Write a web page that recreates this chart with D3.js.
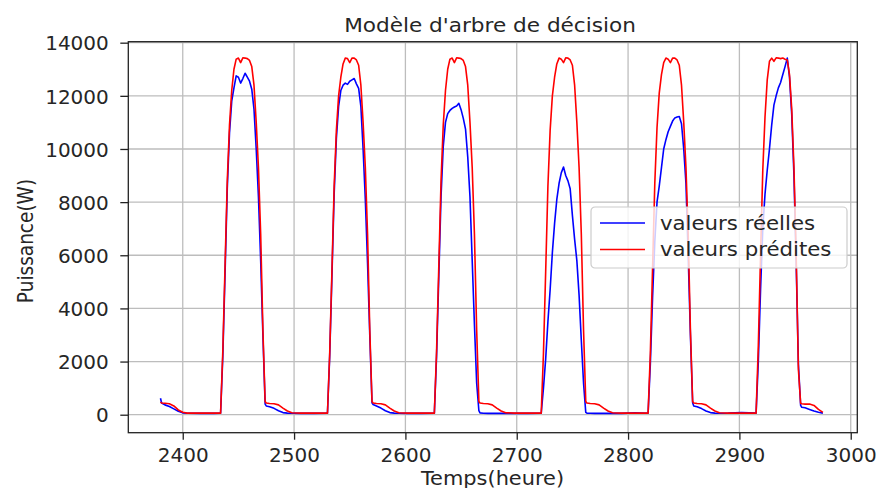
<!DOCTYPE html>
<html>
<head>
    <meta charset="utf-8">
    <title>Modèle d'arbre de décision</title>
    <style>
        body { margin: 0; background: #fff; }
        text { font-family: "DejaVu Sans", sans-serif; fill: #262626; }
    </style>
</head>
<body>
    <script src="https://cdnjs.cloudflare.com/ajax/libs/d3/7.9.0/d3.min.js"></script>
    <script>
        // temps (heure), shared by both series
        const heures = [
            2380, 2381, 2384, 2388, 2392, 2396, 2400, 2404, 2416, 2428,
            2434, 2436, 2438, 2440, 2442, 2444, 2446, 2448, 2450, 2452, 2454, 2456, 2458, 2460, 2462, 2464, 2466, 2468, 2470, 2472, 2474, 2475, 2478, 2482, 2486, 2490, 2494, 2498, 2506, 2518,
            2530, 2532, 2534, 2536, 2538, 2540, 2542, 2544, 2546, 2548, 2550, 2552, 2554, 2556, 2558, 2560, 2562, 2564, 2566, 2568, 2570, 2571, 2574, 2578, 2582, 2586, 2590, 2594, 2602, 2614,
            2626, 2628, 2630, 2632, 2634, 2636, 2638, 2640, 2642, 2644, 2646, 2648, 2650, 2652, 2654, 2656, 2658, 2660, 2662, 2664, 2666, 2667, 2670, 2674, 2678, 2682, 2686, 2690, 2698, 2710,
            2722, 2724, 2726, 2728, 2730, 2732, 2734, 2736, 2738, 2740, 2742, 2744, 2746, 2748, 2750, 2752, 2754, 2756, 2758, 2760, 2762, 2763, 2766, 2770, 2774, 2778, 2782, 2786, 2794, 2806,
            2818, 2820, 2822, 2824, 2826, 2828, 2830, 2832, 2834, 2836, 2838, 2840, 2842, 2844, 2846, 2848, 2850, 2852, 2854, 2856, 2858, 2859, 2862, 2866, 2870, 2874, 2878, 2882, 2890, 2902,
            2915, 2917, 2919, 2921, 2923, 2925, 2927, 2929, 2931, 2933, 2935, 2937, 2939, 2941, 2943, 2945, 2947, 2949, 2951, 2953, 2955, 2956, 2959, 2963, 2967, 2971, 2975
        ];

        const valeursReelles = [
            620, 440, 370, 310, 220, 130, 70, 55, 50, 50,
            55, 2200, 5300, 8500, 10600, 11800, 12300, 12750, 12700, 12480, 12650, 12850, 12700, 12550, 12250, 11500, 10000, 8200, 5800, 3000, 400, 330, 300, 240, 150, 80, 60, 55, 50, 50,
            55, 2200, 5200, 8300, 10400, 11600, 12200, 12400, 12480, 12430, 12550, 12600, 12650, 12450, 12280, 11600, 10000, 8100, 5700, 3000, 450, 380, 330, 250, 150, 80, 60, 55, 50, 50,
            55, 2200, 5200, 8200, 10100, 11000, 11330, 11450, 11530, 11580, 11620, 11720, 11480, 11150, 10750, 9700, 8200, 5800, 3400, 1200, 150, 70, 55, 50, 50, 50, 50, 50, 50, 50,
            55, 1000, 2100, 3500, 4700, 6100, 7200, 8100, 8700, 9100, 9320, 9000, 8800, 8500, 7500, 6600, 5800, 4500, 2800, 1200, 90, 60, 55, 50, 50, 50, 50, 50, 50, 70,
            55, 1900, 4400, 6500, 8000, 8600, 9300, 10000, 10350, 10650, 10850, 11050, 11170, 11200, 11220, 10950, 10000, 8700, 6000, 3000, 450, 330, 300, 230, 140, 80, 60, 55, 60, 80,
            60, 2000, 4700, 7000, 8300, 9200, 10000, 10900, 11650, 12000, 12300, 12500, 12800, 13100, 13420, 12700, 11300, 9000, 5700, 1900, 350, 280, 260, 200, 140, 90, 60
        ];

        const valeursPredites = [
            480, 440, 430, 410, 330, 180, 90, 60, 60, 60,
            60, 2400, 5600, 8800, 10900, 12200, 13000, 13380, 13420, 13250, 13430, 13420, 13400, 13330, 13100, 12400, 11000, 9300, 6800, 3200, 500, 440, 420, 410, 370, 250, 140, 75, 60, 60,
            60, 2300, 5400, 8600, 10700, 12000, 12700, 13200, 13420, 13400, 13250, 13420, 13420, 13350, 13150, 12400, 11000, 9300, 6800, 3200, 500, 440, 420, 410, 370, 250, 140, 75, 60, 60,
            60, 2400, 5600, 8800, 10900, 12200, 13000, 13380, 13420, 13250, 13430, 13420, 13400, 13330, 13100, 12400, 11000, 9300, 6800, 3200, 500, 440, 420, 410, 370, 250, 140, 75, 60, 60,
            60, 2300, 5400, 8600, 10700, 12000, 12700, 13200, 13420, 13380, 13250, 13430, 13420, 13350, 13150, 12400, 11000, 9300, 6800, 3200, 500, 440, 420, 410, 370, 250, 140, 75, 60, 60,
            60, 2300, 5500, 8700, 10800, 12100, 12800, 13250, 13420, 13380, 13250, 13420, 13420, 13350, 13150, 12400, 11000, 9300, 6800, 3200, 500, 440, 420, 410, 370, 250, 140, 75, 60, 60,
            60, 2600, 6000, 9200, 11200, 12600, 13300, 13420, 13300, 13430, 13420, 13400, 13420, 13380, 13350, 12800, 11500, 9300, 6000, 1700, 430, 410, 400, 400, 350, 200, 90
        ];

        const xTicks = [2400, 2500, 2600, 2700, 2800, 2900, 3000];
        const yTicks = [0, 2000, 4000, 6000, 8000, 10000, 12000, 14000];
        const seriesNames = ["valeurs réelles", "valeurs prédites"];
        const seriesColors = ["#0000ff", "#ff0000"];

        const width = 877;
        const height = 488;
        const plot = {left: 128.3, right: 857.3, top: 41.7, bottom: 432.7};

        const svg = d3.select("body")
            .append("svg")
            .attr("width", width)
            .attr("height", height);

        const x = d3.scaleLinear()
            .domain([2351.1, 3005.9])
            .range([plot.left, plot.right]);

        const y = d3.scaleLinear()
            .domain([-677, 14037])
            .range([plot.bottom, plot.top]);

        // grid
        svg.append("g")
            .selectAll("line")
            .data(xTicks)
            .join("line")
            .attr("x1", d => x(d)).attr("x2", d => x(d))
            .attr("y1", plot.top).attr("y2", plot.bottom)
            .attr("stroke", "#bdbdbd").attr("stroke-width", 1.3);

        svg.append("g")
            .selectAll("line")
            .data(yTicks)
            .join("line")
            .attr("x1", plot.left).attr("x2", plot.right)
            .attr("y1", d => y(d)).attr("y2", d => y(d))
            .attr("stroke", "#bdbdbd").attr("stroke-width", 1.3);

        // series
        const line = d3.line()
            .x(d => x(d[0]))
            .y(d => y(d[1]));

        [valeursReelles, valeursPredites].forEach((vals, i) => {
            svg.append("path")
                .datum(heures.map((h, k) => [h, vals[k]]))
                .attr("fill", "none")
                .attr("stroke", seriesColors[i])
                .attr("stroke-width", 1.6)
                .attr("stroke-linejoin", "round")
                .attr("d", line);
        });

        // axes
        const xAxis = svg.append("g")
            .attr("transform", `translate(0,${plot.bottom})`)
            .call(d3.axisBottom(x).tickValues(xTicks).tickFormat(d3.format("d")).tickSize(7).tickPadding(8));

        const yAxis = svg.append("g")
            .attr("transform", `translate(${plot.left},0)`)
            .call(d3.axisLeft(y).tickValues(yTicks).tickFormat(d3.format("d")).tickSize(8).tickPadding(11.5));

        [xAxis, yAxis].forEach(a => {
            a.select(".domain").remove();
            a.selectAll(".tick line").attr("stroke", "#222").attr("stroke-width", 1.3);
            a.selectAll(".tick text")
                .attr("font-family", "DejaVu Sans")
                .attr("font-size", 20)
                .attr("fill", "#262626");
        });
        yAxis.selectAll(".tick text").attr("dy", "0.36em");

        // frame
        svg.append("rect")
            .attr("x", plot.left).attr("y", plot.top)
            .attr("width", plot.right - plot.left)
            .attr("height", plot.bottom - plot.top)
            .attr("fill", "none")
            .attr("stroke", "#222")
            .attr("stroke-width", 1.3);

        // title and labels
        svg.append("text")
            .attr("transform", "translate(490,31.5) scale(1.08,1)")
            .attr("text-anchor", "middle")
            .attr("font-size", 20)
            .text("Modèle d'arbre de décision");

        svg.append("text")
            .attr("transform", "translate(492.5,484.5) scale(1.1,1)")
            .attr("text-anchor", "middle")
            .attr("font-size", 19)
            .text("Temps(heure)");

        svg.append("text")
            .attr("transform", "translate(33,241) rotate(-90) scale(1,1.1)")
            .attr("text-anchor", "middle")
            .attr("font-size", 18.5)
            .text("Puissance(W)");

        // legend
        const legend = svg.append("g")
            .attr("transform", "translate(591,207)");

        legend.append("rect")
            .attr("width", 256)
            .attr("height", 61)
            .attr("rx", 4)
            .attr("fill", "#fff")
            .attr("fill-opacity", 0.8)
            .attr("stroke", "#cccccc")
            .attr("stroke-width", 1.2);

        seriesNames.forEach((name, i) => {
            const yy = 16 + i * 26.5;
            legend.append("line")
                .attr("x1", 9).attr("x2", 54)
                .attr("y1", yy).attr("y2", yy)
                .attr("stroke", seriesColors[i])
                .attr("stroke-width", 1.6);
            legend.append("text")
                .attr("transform", `translate(69,${yy}) scale(1.12,1)`)
                .attr("dy", "0.36em")
                .attr("font-size", 19)
                .text(name);
        });
    </script>
</body>
</html>
